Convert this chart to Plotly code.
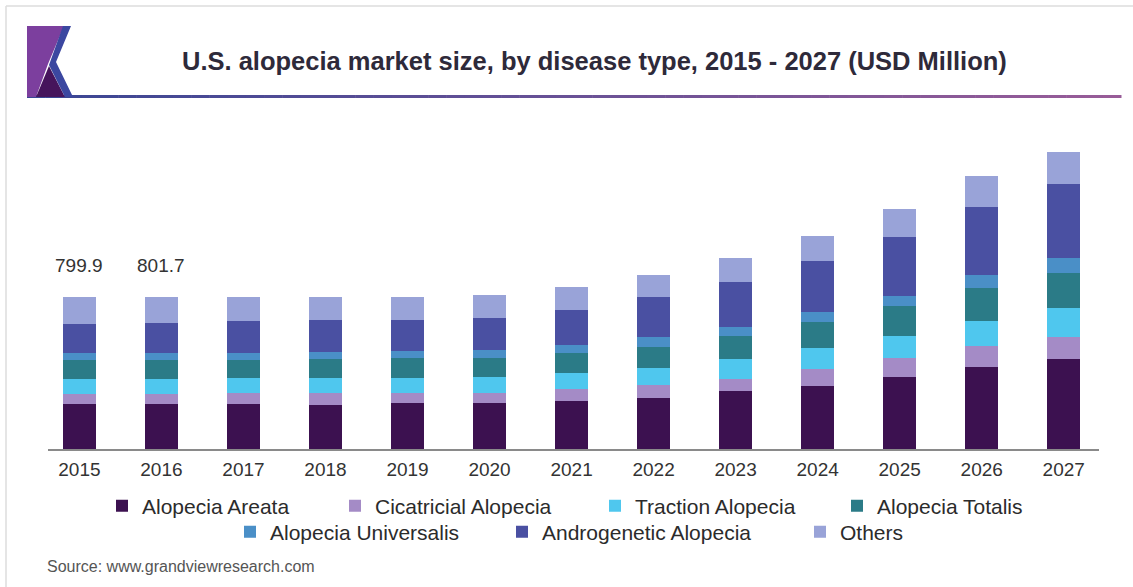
import plotly.graph_objects as go

# ---------------- data ----------------
years = ["2015", "2016", "2017", "2018", "2019", "2020", "2021",
         "2022", "2023", "2024", "2025", "2026", "2027"]
alopecia_areata = [236, 236, 236, 231, 240, 240, 254, 268, 302, 332, 380, 429, 472]
cicatricial_alopecia = [54, 53, 56, 61, 53, 53, 61, 70, 68, 88, 98, 110, 117]
traction_alopecia = [77, 77, 79, 82, 82, 87, 84, 88, 105, 110, 117, 135, 154]
alopecia_totalis = [101, 101, 96, 97, 102, 100, 103, 108, 119, 138, 154, 170, 180]
alopecia_universalis = [38, 38, 38, 40, 40, 40, 44, 52, 47, 54, 56, 70, 79]
androgenetic_alopecia = [151, 158, 166, 166, 161, 166, 185, 210, 236, 263, 310, 355, 392]
others = [143, 136, 128, 122, 122, 122, 121, 119, 128, 135, 145, 163, 166]
total_labels = {"2015": "799.9", "2016": "801.7"}

series_names = ["Alopecia Areata", "Cicatricial Alopecia", "Traction Alopecia",
                "Alopecia Totalis", "Alopecia Universalis", "Androgenetic Alopecia", "Others"]
series_values = [alopecia_areata, cicatricial_alopecia, traction_alopecia,
                 alopecia_totalis, alopecia_universalis, androgenetic_alopecia, others]
series_colors = ["#3c1150", "#a48bc6", "#4fc7ee", "#2b7b87", "#4a8fc7", "#4a50a2", "#99a3d8"]

title_text = "U.S. alopecia market size, by disease type, 2015 - 2027 (USD Million)"
source_text = "Source: www.grandviewresearch.com"

# ---------------- layout geometry (pixels) ----------------
W, H = 1133, 587
ML, MR, MT, MB = 48, 34, 110, 138
PW = W - ML - MR
PH = H - MT - MB
Y_MAX = 1780


def px_x(px):
    return (px - ML) / PW


def px_y(py):
    return (H - MB - py) / PH


FONT = "Liberation Sans, Arial, sans-serif"

fig = go.Figure()

# legend placement per item: (legend id, text-start x px, centre y px)
legend_slots = [
    ("legend", 140, 506), ("legend2", 373, 506), ("legend3", 633, 506), ("legend4", 875, 506),
    ("legend5", 268, 532), ("legend6", 540, 532), ("legend7", 838, 532),
]

for name, vals, col, slot in zip(series_names, series_values, series_colors, legend_slots):
    fig.add_trace(go.Bar(
        x=years, y=vals, name=name,
        marker=dict(color=col, line=dict(width=0)),
        legend=slot[0],
        hovertemplate="%{x}<br>" + name + ": %{y}<extra></extra>",
    ))

legend_layout = {}
for lid, tx, ty in legend_slots:
    legend_layout[lid] = dict(
        x=px_x(tx - 38), y=px_y(ty), xanchor="left", yanchor="middle",
        orientation="h", bgcolor="rgba(0,0,0,0)", borderwidth=0,
        font=dict(family=FONT, size=21, color="#2b2b2b"),
        itemclick=False, itemdoubleclick=False,
    )

shapes = []
# outer frame (top and left edges only)
shapes.append(dict(type="line", xref="paper", yref="paper",
                   x0=px_x(6), x1=px_x(1133), y0=px_y(6), y1=px_y(6),
                   line=dict(color="#dcdcdc", width=1.5), layer="below"))
shapes.append(dict(type="line", xref="paper", yref="paper",
                   x0=px_x(6), x1=px_x(6), y0=px_y(6), y1=px_y(587),
                   line=dict(color="#dcdcdc", width=1.5), layer="below"))

# header gradient line
n_seg = 60
x_start, x_end = 27, 1121
c0 = (58, 70, 148)
c1 = (152, 92, 152)
for i in range(n_seg):
    t = i / (n_seg - 1)
    c = tuple(int(round(c0[k] + (c1[k] - c0[k]) * t)) for k in range(3))
    xa = x_start + (x_end - x_start) * i / n_seg
    xb = x_start + (x_end - x_start) * (i + 1) / n_seg
    shapes.append(dict(type="line", xref="paper", yref="paper",
                       x0=px_x(xa), x1=px_x(xb + 0.5), y0=px_y(96.5), y1=px_y(96.5),
                       line=dict(color="rgb(%d,%d,%d)" % c, width=3)))


def poly(points, color):
    path = "M " + " L ".join("%f,%f" % (px_x(a), px_y(b)) for a, b in points) + " Z"
    return dict(type="path", xref="paper", yref="paper", path=path,
                fillcolor=color, line=dict(width=0))


# logo
shapes.append(poly([(27, 26), (64, 26), (48, 64), (36, 97), (27, 97)], "#7c3f9e"))
shapes.append(poly([(36, 97), (49, 66), (65, 97)], "#46145c"))
shapes.append(poly([(63, 26), (71, 26), (56, 62), (73, 97), (65, 97), (49, 65)], "#3b47a0"))

annotations = [
    dict(text="<b>" + title_text + "</b>", xref="paper", yref="paper",
         x=px_x(594), y=px_y(61), xanchor="center", yanchor="middle", showarrow=False,
         font=dict(family=FONT, size=25.5, color="#2e2a3a")),
    dict(text=source_text, xref="paper", yref="paper",
         x=px_x(45), y=px_y(566), xanchor="left", yanchor="middle", showarrow=False,
         font=dict(family=FONT, size=16, color="#555555")),
]
for yr, lab in total_labels.items():
    idx = years.index(yr)
    total = sum(v[idx] for v in series_values)
    annotations.append(dict(text=lab, x=idx, y=total, xref="x", yref="y",
                            yshift=31, showarrow=False,
                            xanchor="center", yanchor="middle",
                            font=dict(family=FONT, size=19, color="#333333")))

fig.update_layout(
    width=W, height=H,
    margin=dict(l=ML, r=MR, t=MT, b=MB, autoexpand=False),
    paper_bgcolor="white", plot_bgcolor="white",
    barmode="stack", bargap=0.594,
    showlegend=True,
    shapes=shapes, annotations=annotations,
    xaxis=dict(type="category", range=[-0.383, 12.43], showgrid=False, zeroline=False,
               showline=True, linecolor="#8a8a8a", linewidth=2, ticks="",
               ticklabelstandoff=2,
               tickfont=dict(family=FONT, size=19, color="#333333"), fixedrange=True),
    yaxis=dict(range=[0, Y_MAX], visible=False, showgrid=False, fixedrange=True),
    **legend_layout,
)

fig.write_html("out.html",
               config={"displayModeBar": False},
               post_script="document.body.style.margin='0';document.body.style.overflow='hidden';")
